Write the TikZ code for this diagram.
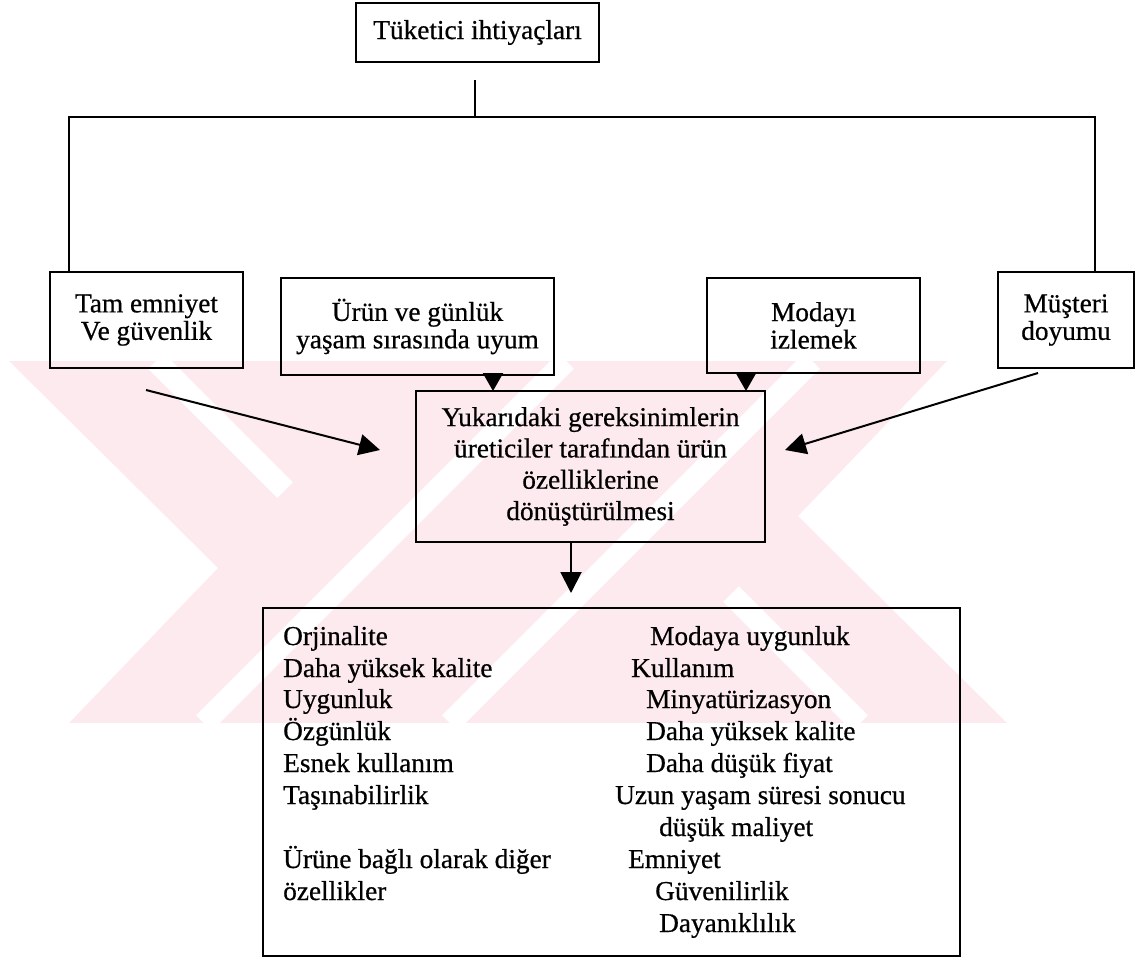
\documentclass[tikz,border=0pt]{standalone}
\usepackage{fontspec}
\setmainfont{Liberation Serif}[FakeBold=0.6]
\usetikzlibrary{arrows.meta}
\definecolor{wm}{RGB}{253,234,238}
\begin{document}
\begin{tikzpicture}[x=1pt,y=-1pt,
  box/.style={draw=black, line width=2pt, inner sep=0pt, align=center,
    font=\fontsize{27.3}{27.5}\selectfont},
  conn/.style={line width=2pt},
  arr/.style={line width=2pt, -{Triangle[length=21pt,width=21pt]}},
  sarr/.style={line width=2pt, -{Triangle[length=18pt,width=20pt]}},
  lbl/.style={anchor=base west, inner sep=0pt, font=\fontsize{27.3}{31.5}\selectfont}]
\useasboundingbox (0,0) rectangle (1138,960);

% watermark
\begin{scope}
  \clip (9,361) -- (947,361) -- (798,516) -- (1007,723) -- (69,723) -- (218,568) -- cycle;
  \fill[wm] (0,361) rectangle (1138,723);
  \draw[white, line width=22pt] (204,723) -- (566,361);
  \draw[white, line width=22pt] (450,723) -- (812,361);
  \draw[white, line width=22pt] (156,361) -- (285,490);
  \draw[white, line width=22pt] (731,594) -- (860,723);
\end{scope}

% boxes
\node[box, minimum width=243pt, minimum height=59pt] (top) at (477.5,32.5) {Tüketici ihtiyaçları};
\node[box, minimum width=193pt, minimum height=96pt] (tam) at (146.5,320) {Tam emniyet\\Ve güvenlik};
\node[box, minimum width=273pt, minimum height=97pt] (uru) at (417.5,326.5) {Ürün ve günlük\\yaşam sırasında uyum};
\node[box, minimum width=213pt, minimum height=95pt] (mod) at (813.5,325.5) {Modayı\\izlemek};
\node[box, minimum width=136pt, minimum height=96pt] (mus) at (1066,320) {Müşteri\\doyumu};
\node[box, minimum width=349pt, minimum height=151pt, font=\fontsize{27.3}{31.3}\selectfont] (mid) at (590.5,466.5)
  {Yukarıdaki gereksinimlerin\\üreticiler tarafından ürün\\özelliklerine\\dönüştürülmesi};
\node[box, minimum width=697pt, minimum height=348pt] (feat) at (611.5,782) {};

% tree connectors
\coordinate (stub) at (475,80);
\coordinate (hm) at (475,117);
\coordinate (hl) at (69,117);
\coordinate (hr) at (1095,117);
\draw[conn] (stub) -- (hm);
\draw[conn] (tam.north -| hl) -- (hl) -- (hr) -- (mus.north -| hr);

% arrows into the middle box
\coordinate (a1) at (493,391);
\coordinate (a2) at (746,391);
\draw[sarr] (uru.south -| a1) -- (a1);
\draw[sarr] (mod.south -| a2) -- (a2);
\coordinate (t1) at (146,390);
\coordinate (t2) at (380,450);
\draw[arr] (t1) -- (t2);
\coordinate (m1) at (1038,373);
\coordinate (m2) at (785,450);
\draw[arr] (m1) -- (m2);
\coordinate (d1) at (571,542);
\coordinate (d2) at (571,593);
\draw[arr] (d1) -- (d2);

% feature list
\node[lbl] (l1) at (283,645) {Orjinalite};
\node[lbl] (l2) at (283,677) {Daha yüksek kalite};
\node[lbl] (l3) at (283,708) {Uygunluk};
\node[lbl] (l4) at (283,740) {Özgünlük};
\node[lbl] (l5) at (283,772) {Esnek kullanım};
\node[lbl] (l6) at (283,804) {Taşınabilirlik};
\node[lbl] (l7) at (283,868) {Ürüne bağlı olarak diğer};
\node[lbl] (l8) at (283,900) {özellikler};

\node[lbl] (r1) at (650,645) {Modaya uygunluk};
\node[lbl] (r2) at (631,677) {Kullanım};
\node[lbl] (r3) at (646,708) {Minyatürizasyon};
\node[lbl] (r4) at (646,740) {Daha yüksek kalite};
\node[lbl] (r5) at (646,772) {Daha düşük fiyat};
\node[lbl] (r6) at (615,804) {Uzun yaşam süresi sonucu};
\node[lbl] (r7) at (659,836) {düşük maliyet};
\node[lbl] (r8) at (628,868) {Emniyet};
\node[lbl] (r9) at (655,900) {Güvenilirlik};
\node[lbl] (r10) at (659,932) {Dayanıklılık};
\end{tikzpicture}
\end{document}
